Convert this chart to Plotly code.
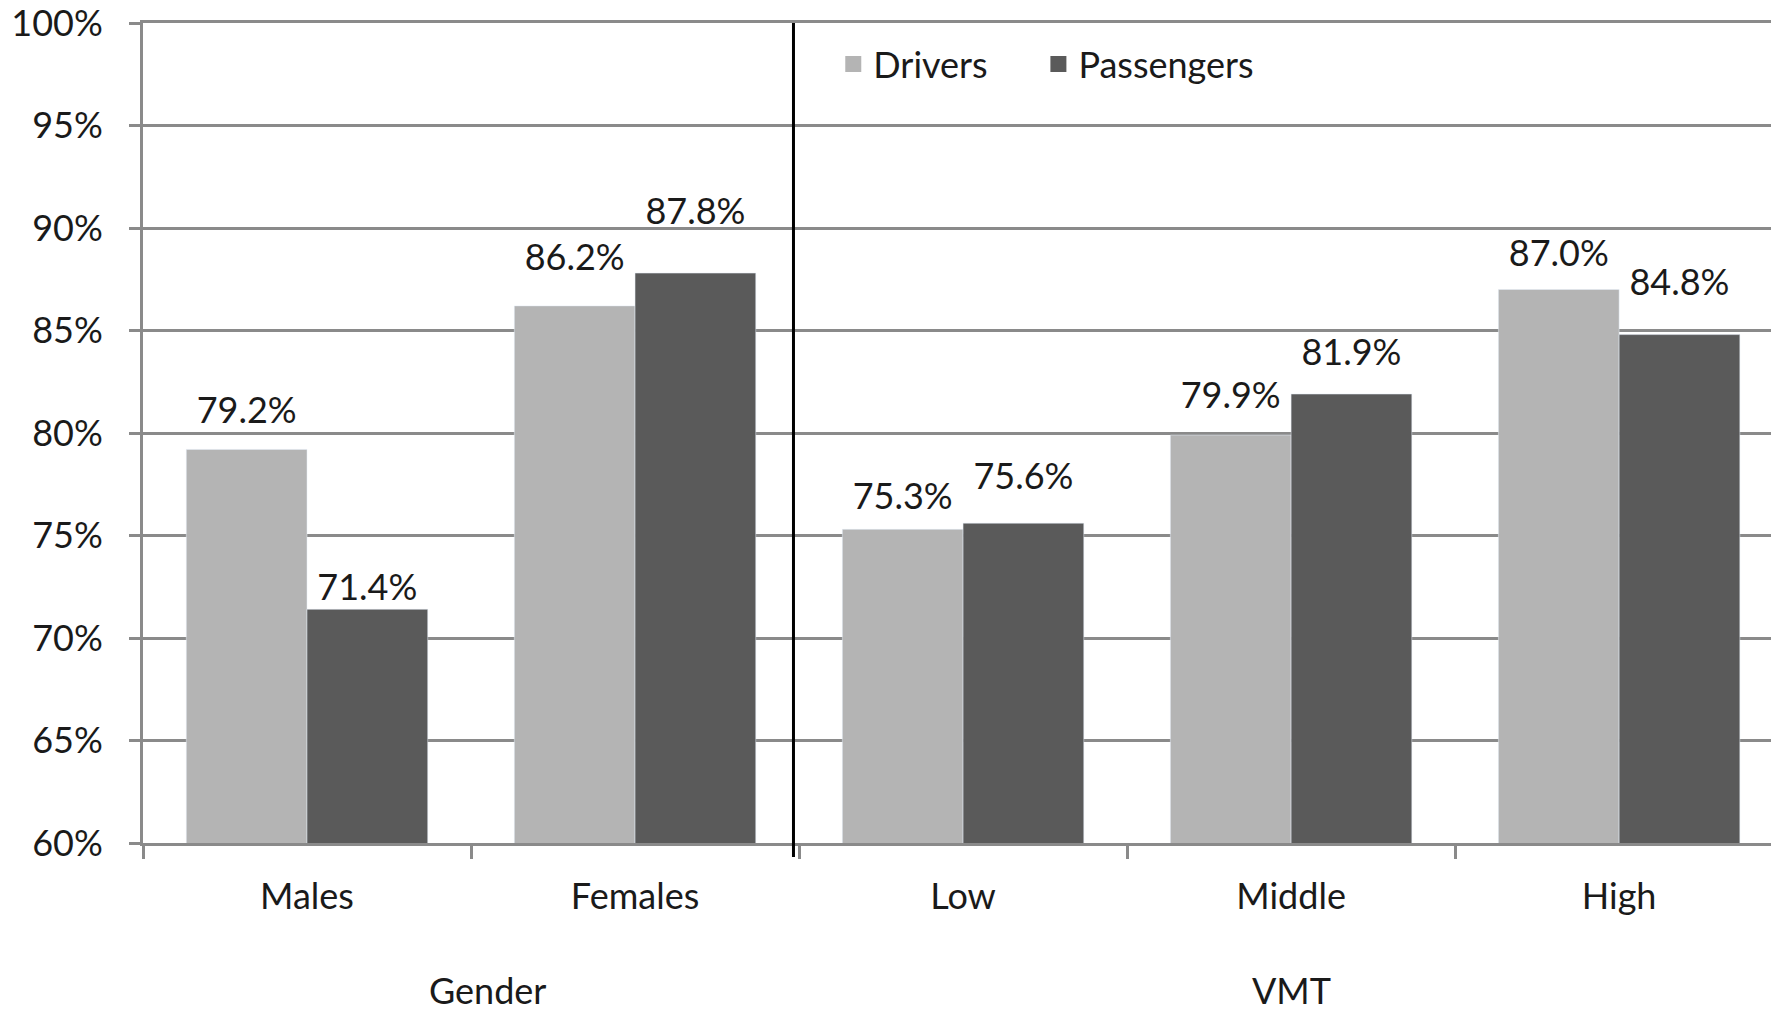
import plotly.graph_objects as go

categories = ["Males", "Females", "Low", "Middle", "High"]
groups = ["Gender", "VMT"]
group_centers = [0.55, 3.0]
drivers = [0.792, 0.862, 0.753, 0.799, 0.870]
passengers = [0.714, 0.878, 0.756, 0.819, 0.848]
y_ticks = [0.60, 0.65, 0.70, 0.75, 0.80, 0.85, 0.90, 0.95, 1.00]

# style: how far each value label floats above its bar (invisible marker size)
label_lift_drivers = [26, 42, 17, 28, 21]
label_lift_passengers = [0, 62, 39, 30, 48]

FONT = "Lato"
FS = 36
TXT = "#1a1a1a"
C_DRV = "#b4b4b4"
C_PAS = "#5a5a5a"
GRID = "#8a8a8a"
x = list(range(len(categories)))

series = [("Drivers", drivers, C_DRV, label_lift_drivers, "legend", 0.424),
          ("Passengers", passengers, C_PAS, label_lift_passengers, "legend2", 0.550)]

fig = go.Figure()
for name, vals, col, _, _, _ in series:
    fig.add_trace(go.Bar(x=x, y=vals, name=name, marker_color=col, offsetgroup=name,
                         showlegend=False))
for name, vals, col, lift, _, _ in series:
    fig.add_trace(go.Scatter(
        x=x, y=vals, mode="markers+text", offsetgroup=name,
        text=[f"{v*100:.1f}%" for v in vals], textposition="top center",
        marker=dict(size=lift, color="rgba(0,0,0,0)", line=dict(width=0)),
        cliponaxis=False, textfont=dict(family=FONT, size=FS, color=TXT),
        showlegend=False, hoverinfo="skip",
    ))
legend_cfg = {}
for name, _, col, _, leg, lx in series:
    fig.add_trace(go.Scatter(x=[None], y=[None], mode="markers", name=name, legend=leg,
                             marker=dict(symbol="square", size=21, color=col, line=dict(width=0))))
    legend_cfg[leg] = dict(orientation="h", x=lx, y=0.950, xanchor="left", yanchor="middle",
                           font=dict(family=FONT, size=FS, color=TXT), itemwidth=30,
                           itemsizing="trace", bgcolor="rgba(0,0,0,0)")

fig.update_layout(
    width=1771, height=1018,
    margin=dict(l=143, r=0, t=23, b=175),
    plot_bgcolor="white", paper_bgcolor="white",
    barmode="group", bargap=0.264, bargroupgap=0,
    scattermode="group", scattergap=0.264,
    font=dict(family=FONT, size=FS, color=TXT),
    showlegend=True,
    **legend_cfg,
)
fig.update_yaxes(
    range=[0.6, 1.0], tickvals=y_ticks, tickformat=".0%", automargin=False,
    showgrid=True, gridcolor=GRID, gridwidth=3,
    showline=True, linecolor=GRID, linewidth=3,
    ticks="outside", ticklen=11, tickwidth=3, tickcolor=GRID,
    ticklabelstandoff=19, ticklabeloverflow="allow", zeroline=False,
    tickfont=dict(family=FONT, size=FS, color=TXT),
)
fig.update_xaxes(
    range=[-0.5, 4.463], tickvals=x, ticktext=categories, automargin=False,
    showgrid=False, zeroline=False, showline=True, linecolor=GRID, linewidth=3,
    mirror=True,
    ticks="", ticklen=0, ticklabelstandoff=20, tickfont=dict(family=FONT, size=FS, color=TXT),
    minor=dict(tickvals=[-0.5, 0.5, 1.5, 2.5, 3.5], ticks="outside", ticklen=13,
               tickwidth=3, tickcolor=GRID, showgrid=False),
)
# divider between groups
fig.add_shape(type="line", xref="x", yref="paper", x0=1.483, x1=1.483, y0=-0.017, y1=1.0,
              line=dict(color="black", width=3))
for g, c in zip(groups, group_centers):
    fig.add_annotation(text=g, x=c, xref="x", y=-0.179, yref="paper", showarrow=False,
                       yanchor="middle", font=dict(family=FONT, size=FS, color=TXT))

fig.write_html("out.html", config={"displayModeBar": False},
               post_script="document.body.style.margin='0';document.body.style.overflow='hidden';")
